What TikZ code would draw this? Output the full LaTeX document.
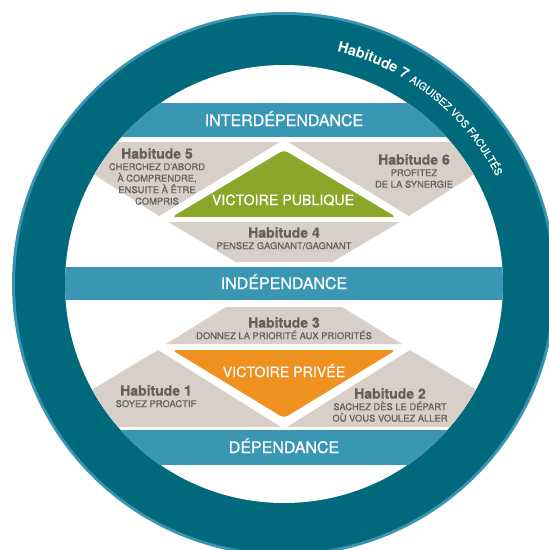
\documentclass[tikz,border=0pt]{standalone}
\usepackage{fontspec}
\setmainfont{TeX Gyre Heros}
\newfontfamily\medfont[FakeBold=0.5]{TeX Gyre Heros}
\usetikzlibrary{calc,decorations.text}

\definecolor{ringdark}{HTML}{01697C}
\definecolor{ringrim}{HTML}{3A94B1}
\definecolor{bandblue}{HTML}{3A97B3}
\definecolor{habgray}{HTML}{D7CFC8}
\definecolor{pubgreen}{HTML}{8BA629}
\definecolor{privorange}{HTML}{EE911F}
\definecolor{txtgray}{HTML}{655F5B}

\newcommand{\habtitle}{\fontsize{14}{11.5}\selectfont\bfseries}
\newcommand{\habsub}{\medfont\fontsize{9.4}{11.5}\selectfont}

\tikzset{
  band/.style={fill=bandblue},
  habshape/.style={fill=habgray},
  bandlabel/.style={text=white, anchor=base, inner sep=0pt,
    font=\medfont\fontsize{16}{18}\selectfont},
  victory/.style={text=white, anchor=base, inner sep=0pt,
    font=\medfont\fontsize{14.2}{16}\selectfont},
  habtext/.style={text=txtgray, align=center, anchor=north,
    inner sep=0pt, font=\habsub},
}

\begin{document}
\begin{tikzpicture}[x=1pt,y=-1pt]
\useasboundingbox (0,0) rectangle (549,550);
\clip (0,0) rectangle (549,550);
\coordinate (O) at (284,284);

% ring
\fill[ringrim] (O) circle[radius=272pt];
\fill[ringdark] (O) circle[radius=269pt];
\fill[white] (O) circle[radius=219pt];

\begin{scope}
\clip (O) circle[radius=219pt];
% bands
\fill[band] (0,103) rectangle (549,137);
\fill[band] (0,267) rectangle (549,300);
\fill[band] (0,430) rectangle (549,465);

% upper part
\fill[habshape] (43,142) -- (280,142) -- (159,216) -- cycle;
\fill[habshape] (288,142) -- (525,142) -- (409,216) -- cycle;
\fill[habshape] (168,222) -- (400,222) -- (332,262) -- (236,262) -- cycle;
\fill[pubgreen, rounded corners=4pt]
  (284,217) -- (172,217) -- (284,150) -- (396,217) -- cycle;

% lower part
\fill[habshape] (226,307) -- (342,307) -- (402,344) -- (166,344) -- cycle;
\fill[habshape] (158,350) -- (281,427) -- (30,427) -- cycle;
\fill[habshape] (410,350) -- (538,427) -- (287,427) -- cycle;
\fill[privorange, rounded corners=4pt]
  (284,350) -- (396,350) -- (284,418) -- (172,350) -- cycle;
\end{scope}

% texts
\node[bandlabel] (inter) at (284,126) {INTERDÉPENDANCE};
\node[bandlabel] (indep) at (284,289) {INDÉPENDANCE};
\node[bandlabel] (dep) at (284,453) {DÉPENDANCE};
\node[victory] (pub) at (283,205) {VICTOIRE PUBLIQUE};
\node[victory] (priv) at (284,377) {VICTOIRE PRIVÉE};

\node[habtext] (h5) at (157,148)
  {{\habtitle Habitude 5}\\CHERCHEZ D’ABORD\\À COMPRENDRE,\\ENSUITE À ÊTRE\\COMPRIS};
\node[habtext] (h6) at (414,154)
  {{\habtitle Habitude 6}\\PROFITEZ\\DE LA SYNERGIE};
\node[habtext] (h4) at (284,227)
  {{\habtitle Habitude 4}\\PENSEZ GAGNANT/GAGNANT};
\node[habtext] (h3) at (284,317)
  {{\habtitle Habitude 3}\\DONNEZ LA PRIORITÉ AUX PRIORITÉS};
\node[habtext] (h1) at (156,385)
  {{\habtitle Habitude 1}\\SOYEZ PROACTIF};
\node[habtext] (h2) at (390,388)
  {{\habtitle Habitude 2}\\SACHEZ DÈS LE DÉPART\\OÙ VOUS VOULEZ ALLER};

% habit 7 along the ring
\path[decorate, decoration={text along path, text align=center,
    text color=white,
    text={|\fontsize{14.5}{12}\selectfont\bfseries|Habitude 7 |\medfont\fontsize{10.4}{11}\selectfont|AIGUISEZ VOS FACULTÉS}}]
  ($(O)+(104:238pt)$) arc[start angle=104, end angle=0, radius=238pt];
\end{tikzpicture}
\end{document}
